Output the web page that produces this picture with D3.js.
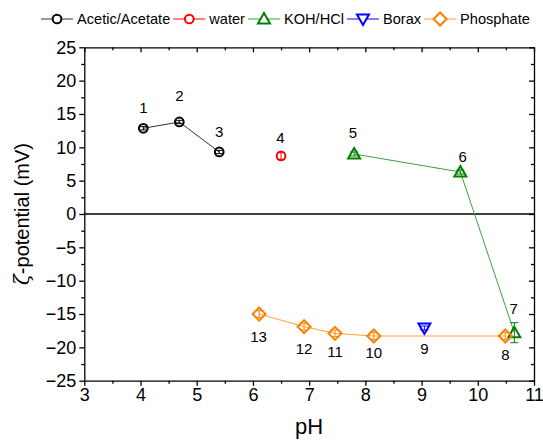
<!DOCTYPE html>
<html><head><meta charset="utf-8">
<script src="https://cdn.jsdelivr.net/npm/d3@7"></script>
<style>body{margin:0;background:#fff} svg{display:block} text{font-family:Arial,"Liberation Sans",sans-serif;fill:#000}</style>
</head><body><svg id="c" width="543" height="441"></svg>
<script>
// ---- data ----
const seriesNames = ["Acetic/Acetate", "water", "KOH/HCl", "Borax", "Phosphate"];
const aceticPH = [4.05, 4.69, 5.40];
const aceticZeta = [12.85, 13.8, 9.3];
const aceticErr = [0.25, 0.25, 0.25];
const waterPH = [6.50];
const waterZeta = [8.7];
const waterErr = [0.5];
const kohPH = [7.80, 9.69, 10.65];
const kohZeta = [9.0, 6.3, -17.8];
const kohErr = [0.3, 0.3, 1.5];
const boraxPH = [9.05];
const boraxZeta = [-17.1];
const boraxErr = [0.3];
const phosPH = [6.11, 6.91, 7.46, 8.15, 10.49];
const phosZeta = [-15.0, -16.9, -17.9, -18.3, -18.3];
const phosErr = [0.5, 0.5, 0.5, 0.5, 0.5];
const labelText = ["1","2","3","4","5","6","7","8","9","10","11","12","13"];
const labelPH   = [4.05, 4.69, 5.40, 6.49, 7.78, 9.73, 10.64, 10.49, 9.05, 8.15, 7.46, 6.91, 6.10];
const labelZeta = [15.9, 17.7, 12.3, 11.5, 12.25, 8.6, -14.2, -21.1, -20.1, -20.8, -20.6, -20.1, -18.4];
const xTicks = [3,4,5,6,7,8,9,10,11];
const yTicks = [-25,-20,-15,-10,-5,0,5,10,15,20,25];
const xTitle = "pH";
const yTitle = "-potential (mV)";

// ---- layout ----
const L = 84.3, R = 534, T = 47.3, B = 380.7;
const svg = d3.select("#c");
const x = d3.scaleLinear().domain([3, 11]).range([L, R]);
const y = d3.scaleLinear().domain([-25, 25]).range([B, T]);

const xMinor = d3.range(3, 11.01, 0.5).filter(v => !xTicks.includes(v));
const yMinor = d3.range(-25, 25.01, 2.5).filter(v => !yTicks.includes(v));

function drawAxis(axisGen, tr, major, minor, labels) {
  const g = svg.append("g").attr("transform", tr);
  g.call(axisGen.tickValues(major).tickSize(5).tickSizeOuter(0).tickPadding(labels ? 3 : 0)
        .tickFormat(labels ? d3.format("d") : ""));
  g.select(".domain").attr("stroke", "#000").attr("stroke-width", 1.3);
  g.selectAll(".tick line").attr("stroke", "#000").attr("stroke-width", 1.3);
  g.selectAll(".tick text").style("font-size", "18px").attr("fill", "#000");
  const g2 = svg.append("g").attr("transform", tr);
  g2.call(axisGen.tickValues(minor).tickSize(3).tickFormat(""));
  g2.select(".domain").remove();
  g2.selectAll(".tick line").attr("stroke", "#000").attr("stroke-width", 1.3);
  return g;
}
drawAxis(d3.axisBottom(x), `translate(0,${B})`, xTicks, xMinor, true);
drawAxis(d3.axisLeft(y), `translate(${L},0)`, yTicks, yMinor, true);
drawAxis(d3.axisBottom(x), `translate(0,${T})`, xTicks, xMinor, false);
drawAxis(d3.axisLeft(y), `translate(${R},0)`, yTicks, yMinor, false);

// zero line
svg.append("line").attr("x1", L).attr("x2", R).attr("y1", y(0)).attr("y2", y(0))
  .attr("stroke", "#000").attr("stroke-width", 1.3);

// titles
svg.append("text").attr("x", (L + R) / 2).attr("y", 434).attr("text-anchor", "middle")
  .style("font-size", "22px").text(xTitle);
const yt = svg.append("text").attr("transform", `translate(29,${(T + B) / 2}) rotate(-90)`)
  .attr("text-anchor", "middle").style("font-size", "20px");
yt.append("tspan").style("font-style", "italic").style("font-family", "'DejaVu Serif',serif").text("ζ");
yt.append("tspan").text(yTitle);

// ---- series ----
const series = [
  {name: seriesNames[0], px: aceticPH, pz: aceticZeta, err: aceticErr, color: "#000000", lineColor: "#333333", shape: "circle", line: true},
  {name: seriesNames[1], px: waterPH, pz: waterZeta, err: waterErr, color: "#FF0000", lineColor: "#FF0000", shape: "circle", line: false},
  {name: seriesNames[2], px: kohPH, pz: kohZeta, err: kohErr, color: "#008000", lineColor: "#3CA03C", shape: "triangle", line: true},
  {name: seriesNames[3], px: boraxPH, pz: boraxZeta, err: boraxErr, color: "#0000FF", lineColor: "#0000FF", shape: "triangleDown", line: false},
  {name: seriesNames[4], px: phosPH, pz: phosZeta, err: phosErr, color: "#FF8000", lineColor: "#FFA040", shape: "diamond", line: true}
];

function markerPath(shape) {
  if (shape === "circle") return d3.symbol(d3.symbolCircle, 60)();
  if (shape === "triangle") return "M0,-6L6,4.5L-6,4.5Z";
  if (shape === "triangleDown") return "M0,6L6,-4.5L-6,-4.5Z";
  if (shape === "diamond") return "M0,-6.5L6.5,0L0,6.5L-6.5,0Z";
}

series.forEach(s => {
  const pts = s.px.map((v, i) => ({x: v, z: s.pz[i], e: s.err[i]}));
  if (s.line && pts.length > 1) {
    svg.append("path").datum(pts)
      .attr("d", d3.line().x(d => x(d.x)).y(d => y(d.z)))
      .attr("fill", "none").attr("stroke", s.lineColor).attr("stroke-width", 1);
  }
  const g = svg.append("g");
  pts.forEach(d => {
    const cx = x(d.x), cy = y(d.z);
    const eg = g.append("g").attr("stroke", s.color).attr("stroke-width", 1);
    eg.append("line").attr("x1", cx).attr("x2", cx).attr("y1", y(d.z - d.e)).attr("y2", y(d.z + d.e));
    [d.z - d.e, d.z + d.e].forEach(v => eg.append("line").attr("x1", cx - 4).attr("x2", cx + 4).attr("y1", y(v)).attr("y2", y(v)));
    g.append("path").attr("d", markerPath(s.shape)).attr("transform", `translate(${cx},${cy})`)
      .attr("fill", "none").attr("stroke", s.color).attr("stroke-width", 2);
  });
});

// point labels
labelText.forEach((t, i) => {
  svg.append("text").attr("x", x(labelPH[i])).attr("y", y(labelZeta[i]))
    .attr("text-anchor", "middle").attr("dominant-baseline", "central")
    .style("font-size", "15px").text(t);
});

// ---- legend ----
let lx = 41;
const ly = 19;
series.forEach(s => {
  svg.append("line").attr("x1", lx).attr("x2", lx + 32).attr("y1", ly).attr("y2", ly)
    .attr("stroke", s.lineColor).attr("stroke-width", 1);
  svg.append("path").attr("d", markerPath(s.shape)).attr("transform", `translate(${lx + 16},${ly})`)
    .attr("fill", "#fff").attr("stroke", s.color).attr("stroke-width", 2);
  const t = svg.append("text").attr("x", lx + 36).attr("y", ly).attr("dominant-baseline", "central")
    .style("font-size", "14.6px").text(s.name);
  lx += 36 + t.node().getComputedTextLength() + 3;
});
</script></body></html>
